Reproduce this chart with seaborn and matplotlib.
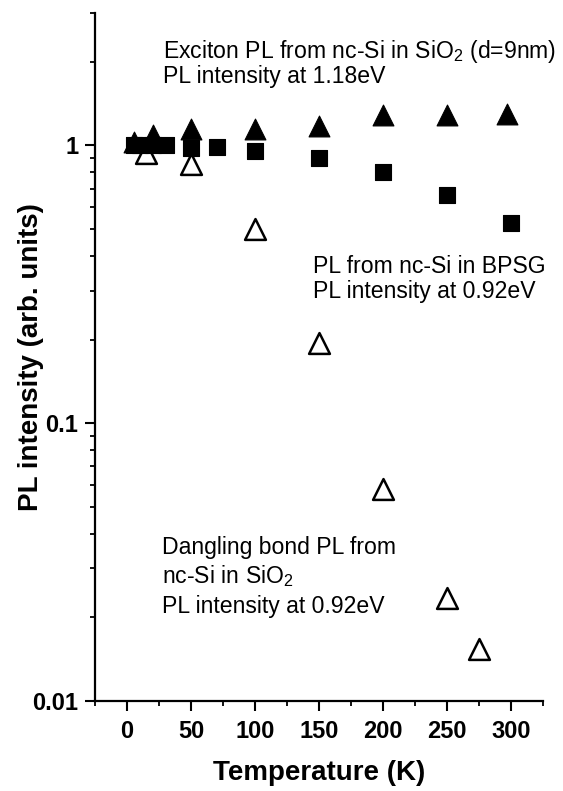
import numpy as np
import pandas as pd
import matplotlib
matplotlib.use("Agg")
import matplotlib.pyplot as plt
import seaborn as sns
from matplotlib.ticker import LogLocator, FixedLocator, FixedFormatter, MultipleLocator, NullFormatter

# exciton PL, nc-Si in SiO2 (1.18 eV) - filled triangles
exc_T = [5, 20, 50, 100, 150, 200, 250, 297]
exc_I = [1.03, 1.09, 1.15, 1.15, 1.18, 1.29, 1.285, 1.30]

# PL from nc-Si in BPSG (0.92 eV) - filled squares
bpsg_T = [5, 10, 20, 30, 50, 70, 100, 150, 200, 250, 300]
bpsg_I = [1.0, 1.0, 1.0, 1.0, 0.98, 0.99, 0.953, 0.902, 0.806, 0.666, 0.528]

# dangling bond PL, nc-Si in SiO2 (0.92 eV) - open triangles
db_T = [15, 50, 100, 150, 200, 250, 275]
db_I = [0.94, 0.861, 0.502, 0.195, 0.0578, 0.0234, 0.0154]

sns.set_style("ticks", rc={"axes.edgecolor": "black", "text.color": "black",
                           "axes.labelcolor": "black", "xtick.color": "black",
                           "ytick.color": "black"})
plt.rcParams['font.family'] = ['Liberation Sans', 'DejaVu Sans']
plt.rcParams['mathtext.fontset'] = 'custom'
plt.rcParams['mathtext.rm'] = 'Liberation Sans'
plt.rcParams['mathtext.default'] = 'regular'

fig = plt.figure(figsize=(5.63, 7.91), dpi=100)
ax = fig.add_axes([0.169, 0.1138, 0.7955, 0.8698])

db = pd.DataFrame({"T": db_T, "I": db_I})
bpsg = pd.DataFrame({"T": bpsg_T, "I": bpsg_I})
exc = pd.DataFrame({"T": exc_T, "I": exc_I})

# open triangles first, squares and filled triangles on top
sns.scatterplot(data=db, x="T", y="I", marker="^", s=15**2, facecolor="white",
                edgecolor="black", linewidth=1.8, ax=ax, zorder=3)
sns.scatterplot(data=bpsg, x="T", y="I", marker="s", s=12**2, color="black",
                edgecolor="black", linewidth=0.8, ax=ax, zorder=4)
sns.scatterplot(data=exc, x="T", y="I", marker="^", s=15**2, color="black",
                edgecolor="black", linewidth=0.8, ax=ax, zorder=5)

ax.set_yscale("log")
ax.set_xlim(-25, 325)
ax.set_ylim(0.01, 3.0)

ax.xaxis.set_major_locator(FixedLocator([0, 50, 100, 150, 200, 250, 300]))
ax.xaxis.set_minor_locator(MultipleLocator(25))
ax.yaxis.set_major_locator(FixedLocator([0.01, 0.1, 1]))
ax.yaxis.set_major_formatter(FixedFormatter(["0.01", "0.1", "1"]))
ax.yaxis.set_minor_locator(LogLocator(base=10, subs=np.arange(2, 10)))
ax.yaxis.set_minor_formatter(NullFormatter())

for side in ["top", "right"]:
    ax.spines[side].set_visible(False)
for side in ["left", "bottom"]:
    ax.spines[side].set_linewidth(1.6)

ax.tick_params(which="major", length=7, width=1.5, labelsize=17, direction="out")
ax.tick_params(axis="x", which="major", pad=7)
ax.tick_params(axis="y", which="major", pad=5)
ax.tick_params(which="minor", length=3.8, width=1.3, direction="out")
for lab in ax.get_xticklabels() + ax.get_yticklabels():
    lab.set_fontweight("bold")

ax.set_xlabel("Temperature (K)", fontsize=20, fontweight="bold", labelpad=12)
ax.set_ylabel("PL intensity (arb. units)", fontsize=20, fontweight="bold")
ax.yaxis.set_label_coords(-0.114, 0.5)

fs = 16.6
fig.text(163 / 563, 1 - 58 / 791, "Exciton PL from nc-Si in SiO$_2$ (d=9nm)", fontsize=fs, va="baseline")
fig.text(163 / 563, 1 - 83 / 791, "PL intensity at 1.18eV", fontsize=fs, va="baseline")
fig.text(313 / 563, 1 - 273 / 791, "PL from nc-Si in BPSG", fontsize=fs, va="baseline")
fig.text(313 / 563, 1 - 298 / 791, "PL intensity at 0.92eV", fontsize=fs, va="baseline")
fig.text(162 / 563, 1 - 554 / 791, "Dangling bond PL from", fontsize=fs, va="baseline")
fig.text(162 / 563, 1 - 583 / 791, "nc-Si in SiO$_2$", fontsize=fs, va="baseline")
fig.text(162 / 563, 1 - 613 / 791, "PL intensity at 0.92eV", fontsize=fs, va="baseline")

fig.savefig("out.png", dpi=100)
